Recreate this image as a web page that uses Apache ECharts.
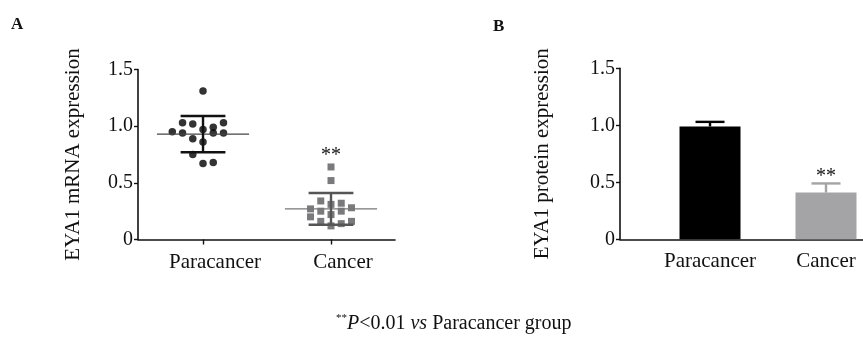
<!DOCTYPE html>
<html>
<head>
<meta charset="utf-8">
<script src="https://cdn.jsdelivr.net/npm/echarts@6/dist/echarts.min.js"></script>
<style>
  html, body { margin: 0; padding: 0; background: #fff; }
  #chart { width: 863px; height: 347px; }
</style>
</head>
<body>
<div id="chart"></div>
<script>
// groups on the x axis
const categories = ['Paracancer', 'Cancer'];
const yTicks = [0, 0.5, 1.0, 1.5];

// panel A: individual mRNA values, with the column each dot sits in (jitter)
const mrnaPara = [1.31, 1.03, 1.02, 1.03, 0.95, 0.94, 0.97, 0.99, 0.94, 0.94, 0.89, 0.86, 0.75, 0.67, 0.68];
const mrnaParaCol = [0, -2, -1, 2, -3, -2, 0, 1, 1, 2, -1, 0, -1, 0, 1];
const mrnaCancer = [0.64, 0.52, 0.34, 0.31, 0.32, 0.25, 0.28, 0.27, 0.25, 0.22, 0.20, 0.16, 0.12, 0.14, 0.16];
const mrnaCancerCol = [0, 0, -1, 0, 1, 1, 2, -2, -1, 0, -2, -1, 0, 1, 2];
const mrnaMean = [0.93, 0.27];
const mrnaSd = [0.16, 0.14];

// panel B: protein bars
const proteinMean = [0.99, 0.41];
const proteinErr = [0.04, 0.08];

const serif = '"Liberation Serif", "Times New Roman", serif';
const ink = '#111';
const colStep = 0.08;

const meanColors = ['#444', '#777'];
const capColors = ['#111', '#555'];
const barColors = ['#000', '#a4a4a6'];

function tickLabel(v) {
    return v === 0 ? '0' : v.toFixed(1);
}

function catLabel(v) {
    return categories[Math.round(v) - 1];
}

function line(x1, y1, x2, y2, color, w) {
    return { type: 'line', shape: { x1: x1, y1: y1, x2: x2, y2: y2 }, style: { stroke: color, lineWidth: w } };
}

function sdBars(params, api) {
    const i = params.dataIndex;
    const x = api.value(0), m = api.value(1), s = api.value(2);
    const c = api.coord([x, m]);
    const hi = api.coord([x, m + s]);
    const lo = api.coord([x, m - s]);
    const hw = api.size([0.36, 0])[0];
    const cw = api.size([0.175, 0])[0];
    return {
        type: 'group',
        children: [
            line(c[0] - hw, c[1], c[0] + hw, c[1], meanColors[i], 1.3),
            line(c[0], hi[1], c[0], lo[1], capColors[i], 2.4),
            line(c[0] - cw, hi[1], c[0] + cw, hi[1], capColors[i], 2.4),
            line(c[0] - cw, lo[1], c[0] + cw, lo[1], capColors[i], 2.4)
        ]
    };
}

function errBars(params, api) {
    const i = params.dataIndex;
    const x = api.value(0), m = api.value(1), e = api.value(2);
    const top = api.coord([x, m]);
    const cap = api.coord([x, m + e]);
    const cw = api.size([0.125, 0])[0];
    return {
        type: 'group',
        children: [
            line(top[0], top[1], top[0], cap[1], barColors[i], 2.4),
            line(top[0] - cw, cap[1], top[0] + cw, cap[1], barColors[i], 2.4)
        ]
    };
}

function stars(offset) {
    return function (params, api) {
        const p = api.coord([api.value(0), api.value(1)]);
        return {
            type: 'text',
            x: p[0],
            y: p[1] - offset,
            style: { text: '**', fontSize: 20, fontFamily: serif, fill: ink, align: 'center', verticalAlign: 'middle' }
        };
    };
}

function xAxisStyle(grid, min, max, withTicks, pad) {
    return {
        gridIndex: grid, type: 'value', min: min, max: max,
        splitLine: { show: false },
        axisLine: { show: true, onZero: false, lineStyle: { color: ink, width: 1.6 } },
        axisTick: { show: withTicks, customValues: [1, 2], length: 5, lineStyle: { color: ink, width: 1.4 } },
        axisLabel: {
            customValues: [1, 2], formatter: catLabel, fontFamily: serif, fontSize: 21,
            color: ink, margin: 12, padding: pad
        }
    };
}

function yAxisStyle(grid, name, gap) {
    return {
        gridIndex: grid, type: 'value', min: yTicks[0], max: yTicks[yTicks.length - 1], interval: 0.5,
        name: name, nameLocation: 'middle', nameGap: gap,
        nameTextStyle: { fontFamily: serif, fontSize: 21, color: ink },
        splitLine: { show: false },
        axisLine: { show: true, lineStyle: { color: ink, width: 1.6 } },
        axisTick: { show: true, length: 4, lineStyle: { color: ink, width: 1.4 } },
        axisLabel: { formatter: tickLabel, fontFamily: serif, fontSize: 20, color: ink, margin: 5 }
    };
}

const paraPoints = mrnaPara.map((v, i) => [1 + mrnaParaCol[i] * colStep, v]);
const cancerPoints = mrnaCancer.map((v, i) => [2 + mrnaCancerCol[i] * colStep, v]);

const chart = echarts.init(document.getElementById('chart'));
chart.setOption({
    animation: false,
    backgroundColor: '#fff',
    grid: [
        { left: 138, top: 69.5, width: 257, height: 170 },
        { left: 620, top: 68.3, width: 243, height: 171 }
    ],
    xAxis: [
        xAxisStyle(0, 0.492, 2.5, true, [0, 0, 0, 24]),
        xAxisStyle(1, 0.224, 2.319, false, 0)
    ],
    yAxis: [
        yAxisStyle(0, 'EYA1 mRNA expression', 54),
        yAxisStyle(1, 'EYA1 protein expression', 67)
    ],
    graphic: [
        { type: 'text', left: 11, top: 16, style: { text: 'A', font: 'bold 17px ' + serif, fill: ink } },
        { type: 'text', left: 493, top: 18, style: { text: 'B', font: 'bold 17px ' + serif, fill: ink } },
        {
            type: 'text', left: 336, top: 313,
            style: {
                text: '{s|**}{i|P}{n|<0.01 }{i|vs}{n| Paracancer group}',
                fill: ink,
                rich: {
                    s: { fontFamily: serif, fontSize: 11, verticalAlign: 'top', fill: ink },
                    i: { fontFamily: serif, fontSize: 20, fontStyle: 'italic', lineHeight: 22, fill: ink },
                    n: { fontFamily: serif, fontSize: 20, lineHeight: 22, fill: ink }
                }
            }
        }
    ],
    series: [
        {
            type: 'scatter', xAxisIndex: 0, yAxisIndex: 0, data: paraPoints,
            symbol: 'circle', symbolSize: 7.5, itemStyle: { color: '#000' }, z: 2
        },
        {
            type: 'scatter', xAxisIndex: 0, yAxisIndex: 0, data: cancerPoints,
            symbol: 'rect', symbolSize: 7, itemStyle: { color: '#59595b' }, z: 2
        },
        {
            type: 'custom', xAxisIndex: 0, yAxisIndex: 0, renderItem: sdBars, z: 3,
            data: categories.map((c, i) => [i + 1, mrnaMean[i], mrnaSd[i]])
        },
        {
            type: 'custom', xAxisIndex: 0, yAxisIndex: 0, renderItem: stars(11), z: 4,
            data: [[2, Math.max.apply(null, mrnaCancer)]]
        },
        {
            type: 'bar', xAxisIndex: 1, yAxisIndex: 1, barWidth: 61,
            data: proteinMean.map((v, i) => ({ value: [i + 1, v], itemStyle: { color: barColors[i] } }))
        },
        {
            type: 'custom', xAxisIndex: 1, yAxisIndex: 1, renderItem: errBars, z: 3,
            data: categories.map((c, i) => [i + 1, proteinMean[i], proteinErr[i]])
        },
        {
            type: 'custom', xAxisIndex: 1, yAxisIndex: 1, renderItem: stars(7), z: 4,
            data: [[2, proteinMean[1] + proteinErr[1]]]
        }
    ]
});
</script>
</body>
</html>
